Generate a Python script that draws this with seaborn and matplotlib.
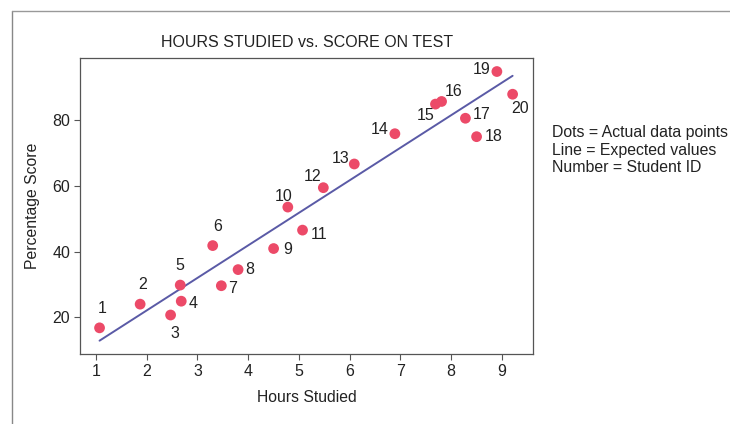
import matplotlib
matplotlib.use("Agg")
import matplotlib.pyplot as plt
import seaborn as sns
import pandas as pd
from matplotlib.lines import Line2D

# values
student_id = list(range(1, 21))
hours = [1.07, 1.87, 2.47, 2.68, 2.66, 3.30, 3.47, 3.80, 4.50, 4.78,
         5.07, 5.48, 6.09, 6.89, 7.69, 7.81, 8.28, 8.50, 8.90, 9.21]
score = [16.8, 24.0, 20.7, 24.9, 29.8, 41.8, 29.6, 34.5, 40.9, 53.5,
         46.5, 59.4, 66.6, 75.8, 84.8, 85.6, 80.5, 74.9, 94.7, 87.8]

# expected-values line, end points
line_hours = [1.07, 9.21]
line_score = [12.9, 93.4]

x_ticks = [1, 2, 3, 4, 5, 6, 7, 8, 9]
y_ticks = [20, 40, 60, 80]

notes = ["Dots = Actual data points", "Line = Expected values", "Number = Student ID"]

# label offsets in pixels (dx, dy), dy positive = up
label_offsets = [(3, 19), (2, 20), (4, -18), (12, -2), (0, 20), (5, 19), (11, -3),
                 (12, 0), (14, -1), (-4, 11), (17, -4), (-11, 11), (-14, 5),
                 (-15, 4), (-10, -11), (12, 10), (16, 4), (17, 0), (-15, 2), (7, -14)]

df = pd.DataFrame({"id": student_id, "hours": hours, "score": score})
line_df = pd.DataFrame({"hours": line_hours, "score": line_score})

sns.set_style("white")
plt.rcParams["font.family"] = ["Liberation Sans", "DejaVu Sans"]

fig = plt.figure(figsize=(7.3, 4.24), dpi=100)
ax = fig.add_axes([0.1096, 0.1644, 0.6209, 0.6995])

sns.lineplot(data=line_df, x="hours", y="score", ax=ax, color="#5a5aa6", linewidth=1.4)
sns.scatterplot(data=df, x="hours", y="score", ax=ax, color="#ec4a68", s=60,
                edgecolor="none", zorder=3)

for i in range(len(student_id)):
    dx, dy = label_offsets[i]
    ax.annotate(str(student_id[i]), (hours[i], score[i]),
                xytext=(dx * 0.72, dy * 0.72), textcoords="offset points",
                ha="center", va="center", fontsize=11.5, color="#222222")

ax.set_xlim(0.685, 9.617)
ax.set_ylim(8.76, 98.9)
ax.set_xticks(x_ticks)
ax.set_yticks(y_ticks)
ax.tick_params(axis="both", which="both", direction="out", length=4, width=0.8,
               color="#555555", labelsize=11.5, labelcolor="#222222", pad=3,
               bottom=True, left=True)
for sp in ax.spines.values():
    sp.set_color("#555555")
    sp.set_linewidth(0.9)

ax.set_xlabel("Hours Studied", fontsize=11.3, color="#222222", labelpad=8)
ax.set_ylabel("Percentage Score", fontsize=11.3, color="#222222", labelpad=9)
ax.set_title("HOURS STUDIED vs. SCORE ON TEST", fontsize=11.5, color="#222222", pad=8)

fig.text(552 / 730, 1 - 150 / 424, "\n".join(notes), fontsize=11.4, color="#222222",
         ha="left", va="center", linespacing=1.2)

# outer frame pieces visible in the reference
fig.add_artist(Line2D([12 / 730, 12 / 730], [0, 1 - 11 / 424], transform=fig.transFigure,
                      color="#888888", linewidth=1))
fig.add_artist(Line2D([12 / 730, 1], [1 - 11 / 424, 1 - 11 / 424], transform=fig.transFigure,
                      color="#999999", linewidth=1))

fig.savefig("out.png", dpi=100)
